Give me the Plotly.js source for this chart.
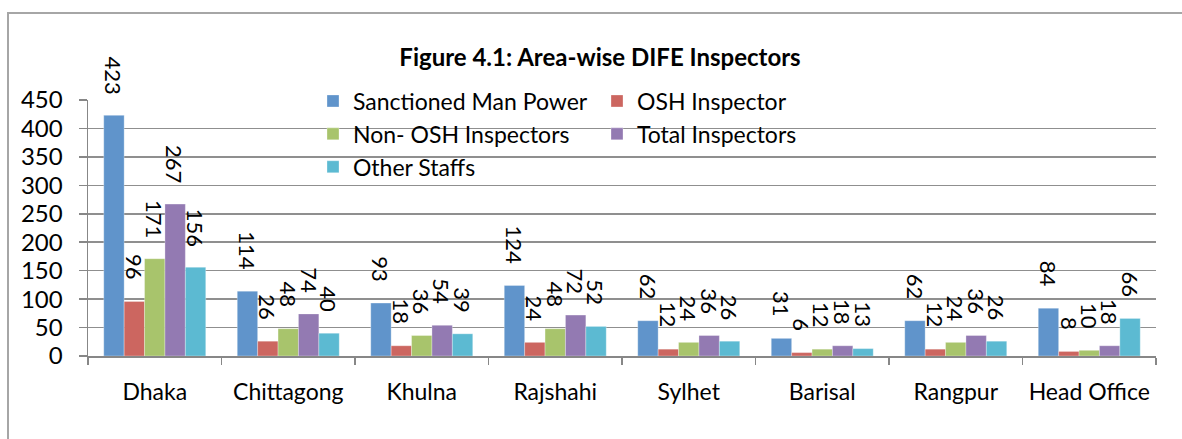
<!DOCTYPE html>
<html>
<head>
<meta charset="utf-8">
<script src="https://cdn.plot.ly/plotly-3.0.1.min.js"></script>
<style>
  html, body { margin: 0; padding: 0; background: #ffffff; overflow: hidden; }
  #frame { position: absolute; left: 7px; top: 12px; width: 1300px; height: 600px; border: 2px solid #a6a6a6; box-sizing: border-box; }
  #chart { position: absolute; left: 0; top: 0; width: 1182px; height: 439px; }
</style>
</head>
<body>
<div id="frame"></div>
<div id="chart"></div>
<script>
const categories = ["Dhaka", "Chittagong", "Khulna", "Rajshahi", "Sylhet", "Barisal", "Rangpur", "Head Office"];
const sanctioned = [423, 114, 93, 124, 62, 31, 62, 84];
const oshInspector = [96, 26, 18, 24, 12, 6, 12, 8];
const nonOshInspectors = [171, 48, 36, 48, 24, 12, 24, 10];
const totalInspectors = [267, 74, 54, 72, 36, 18, 36, 18];
const otherStaffs = [156, 40, 39, 52, 26, 13, 26, 66];
const yTicks = [0, 50, 100, 150, 200, 250, 300, 350, 400, 450];

const seriesNames = ["Sanctioned Man Power", "OSH Inspector", "Non- OSH Inspectors", "Total Inspectors", "Other Staffs"];
const seriesValues = [sanctioned, oshInspector, nonOshInspectors, totalInspectors, otherStaffs];
const seriesColors = ["#6094cb", "#cc6660", "#a8c46c", "#937ab2", "#5cbad2"];
const seriesLegend = ["legend", "legend2", "legend", "legend2", "legend"];

const FONT = "Lato, 'Open Sans', sans-serif";
const bargap = 0.236;
const nSeries = seriesValues.length;
const barW = (1 - bargap) / nSeries;

const traces = seriesValues.map((vals, i) => ({
  type: "bar",
  name: seriesNames[i],
  x: categories,
  y: vals,
  legend: seriesLegend[i],
  marker: { color: seriesColors[i], line: { color: "rgba(255,255,255,0.5)", width: 0.6 } },
  hoverinfo: "x+y+name"
}));

const annotations = [];
seriesValues.forEach((vals, i) => {
  const off = (i - (nSeries - 1) / 2) * barW;
  vals.forEach((v, j) => {
    annotations.push({
      x: j + off, y: v, xref: "x", yref: "y",
      text: String(v), showarrow: false, textangle: 90,
      xanchor: "center", yanchor: "bottom", yshift: 19,
      font: { family: FONT, size: 22, color: "#000000" }
    });
  });
});

const layout = {
  width: 1182, height: 439,
  margin: { l: 88, r: 26, t: 100, b: 83 },
  paper_bgcolor: "rgba(0,0,0,0)",
  plot_bgcolor: "rgba(0,0,0,0)",
  font: { family: FONT, size: 22, color: "#000000" },
  title: {
    text: "<b>Figure 4.1: Area-wise DIFE Inspectors</b>",
    font: { family: FONT, size: 24, color: "#000000" },
    x: 600 / 1182, xref: "container", xanchor: "center",
    y: 1 - 58 / 439, yref: "container", yanchor: "middle"
  },
  barmode: "group",
  bargap: bargap,
  bargroupgap: 0,
  showlegend: true,
  legend: {
    x: (327 - 88 - 14) / 1068, y: 1.08, xanchor: "left", yanchor: "top",
    bgcolor: "rgba(0,0,0,0)", font: { family: FONT, size: 23 },
    tracegroupgap: 0, itemwidth: 30
  },
  legend2: {
    x: (611 - 88 - 14) / 1068, y: 1.08, xanchor: "left", yanchor: "top",
    bgcolor: "rgba(0,0,0,0)", font: { family: FONT, size: 23 },
    tracegroupgap: 0, itemwidth: 30
  },
  xaxis: {
    type: "category",
    tickson: "boundaries",
    tickangle: 0,
    ticks: "outside", ticklen: 7, tickcolor: "#878787", tickwidth: 1.5,
    showline: true, linecolor: "#878787", linewidth: 1.5,
    showgrid: false, zeroline: false,
    ticklabelstandoff: 15,
    tickfont: { family: FONT, size: 23 },
    fixedrange: true
  },
  yaxis: {
    range: [0, 450],
    tickvals: yTicks,
    ticktext: yTicks.map(String),
    ticks: "outside", ticklen: 8, tickcolor: "#878787", tickwidth: 1.5,
    showline: true, linecolor: "#878787", linewidth: 1.5,
    showgrid: true, gridcolor: "#8f8f8f", gridwidth: 1.5,
    zeroline: false,
    ticklabelstandoff: 11,
    tickfont: { family: FONT, size: 24 },
    fixedrange: true
  },
  annotations: annotations
};

Plotly.newPlot("chart", traces, layout, { displayModeBar: false, staticPlot: true });
</script>
</body>
</html>
